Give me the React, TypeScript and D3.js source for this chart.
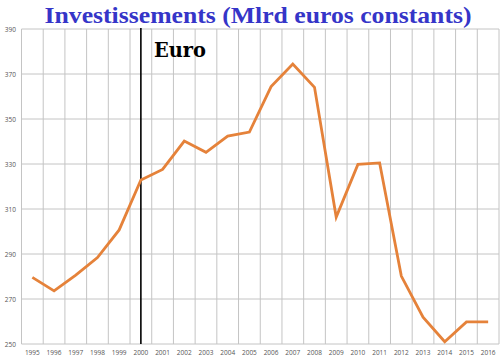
import React, { useEffect, useRef } from 'react'
import * as d3 from 'd3'

const years = ['1995', '1996', '1997', '1998', '1999', '2000', '2001', '2002', '2003', '2004', '2005',
  '2006', '2007', '2008', '2009', '2010', '2011', '2012', '2013', '2014', '2015', '2016']
const investissements = [279.6, 273.6, 280.6, 288.4, 300.7, 322.9, 327.6, 340.2, 335.2, 342.4, 344.2,
  364.4, 374.4, 364.1, 306.4, 329.8, 330.5, 280.2, 261.9, 251.0, 259.8, 259.8]
const yTicks = [250, 270, 290, 310, 330, 350, 370, 390]
const euroYear = '2000'

const W = 500
const H = 360
const margin = { top: 29, right: 1, bottom: 16, left: 21.5 }

export default function App() {
  const ref = useRef<SVGSVGElement>(null)

  useEffect(() => {
    const svg = d3.select(ref.current)
    svg.selectAll('*').remove()

    const x = d3.scaleBand().domain(years).range([margin.left, W - margin.right])
    const y = d3.scaleLinear().domain([250, 390]).range([H - margin.bottom, margin.top])

    svg.append('rect').attr('width', W).attr('height', H).attr('fill', '#fff')

    // grid
    const grid = svg.append('g').attr('stroke', '#c4c4c4').attr('stroke-width', 1)
    grid.selectAll('line.h')
      .data(yTicks)
      .enter()
      .append('line')
      .attr('x1', margin.left).attr('x2', W - margin.right)
      .attr('y1', d => y(d)).attr('y2', d => y(d))
    grid.selectAll('line.v')
      .data(years.concat(['end']))
      .enter()
      .append('line')
      .attr('x1', (d, i) => margin.left + i * x.step())
      .attr('x2', (d, i) => margin.left + i * x.step())
      .attr('y1', y(390)).attr('y2', y(250))

    // axis labels
    svg.append('g').selectAll('text')
      .data(yTicks)
      .enter()
      .append('text')
      .attr('x', 16).attr('y', d => y(d) + 2.5)
      .attr('text-anchor', 'end')
      .attr('font-family', 'Open Sans, sans-serif')
      .attr('font-size', 6.5)
      .attr('fill', '#555')
      .text(d => d)

    svg.append('g').selectAll('text')
      .data(years)
      .enter()
      .append('text')
      .attr('x', d => x(d)! + x.bandwidth() / 2)
      .attr('y', H - 5)
      .attr('text-anchor', 'middle')
      .attr('font-family', 'Open Sans, sans-serif')
      .attr('font-size', 6.5)
      .attr('fill', '#555')
      .text(d => d)

    // euro marker
    const ex = x(euroYear)! + x.bandwidth() / 2
    svg.append('line')
      .attr('x1', ex).attr('x2', ex)
      .attr('y1', y(390) - 1).attr('y2', y(250))
      .attr('stroke', '#000').attr('stroke-width', 1.6)
    svg.append('text')
      .attr('x', ex + 13).attr('y', 57)
      .attr('font-family', 'DejaVu Serif, serif')
      .attr('font-weight', 'bold')
      .attr('font-size', 21)
      .attr('fill', '#000')
      .attr('textLength', 52)
      .attr('lengthAdjust', 'spacingAndGlyphs')
      .text('Euro')

    const line = d3.line<number>()
      .x((d, i) => x(years[i])! + x.bandwidth() / 2)
      .y(d => y(d))

    svg.append('path')
      .datum(investissements)
      .attr('d', line)
      .attr('fill', 'none')
      .attr('stroke', '#E5823A')
      .attr('stroke-width', 2.8)
      .attr('stroke-linejoin', 'miter')

    svg.append('text')
      .attr('x', 258).attr('y', 23)
      .attr('text-anchor', 'middle')
      .attr('font-family', 'Liberation Serif, serif')
      .attr('font-weight', 'bold')
      .attr('font-size', 24)
      .attr('fill', '#3535C8')
      .attr('textLength', 427)
      .attr('lengthAdjust', 'spacingAndGlyphs')
      .text('Investissements (Mlrd euros constants)')
  }, [])

  return (
    <svg ref={ref} width={W} height={H} style={{ position: 'absolute', left: 0, top: 0 }} />
  )
}
